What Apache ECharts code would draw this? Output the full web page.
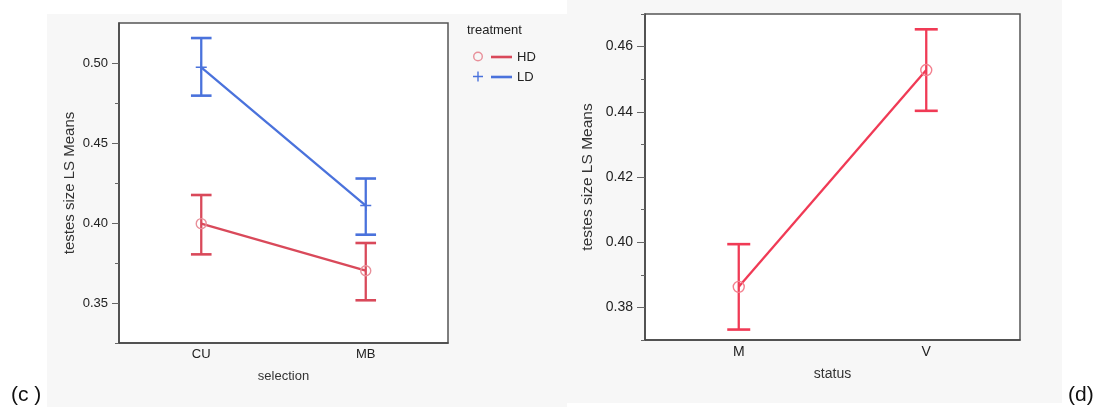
<!DOCTYPE html>
<html>
<head>
<meta charset="utf-8">
<script src="https://cdn.jsdelivr.net/npm/echarts@6/dist/echarts.min.js"></script>
<style>html,body{margin:0;padding:0;background:#fff;}#chart{width:1099px;height:412px;}</style>
</head>
<body>
<div id="chart"></div>
<script>
// ---- data (panel c) ----
const selection = ['CU', 'MB'];
const hdMean = [0.3996, 0.3702];
const hdLow  = [0.3804, 0.3517];
const hdHigh = [0.4175, 0.3875];
const ldMean = [0.4973, 0.4109];
const ldLow  = [0.4796, 0.3927];
const ldHigh = [0.5156, 0.4278];
const leftMajorTicks = [0.35, 0.40, 0.45, 0.50];
const leftMinorTicks = [0.325, 0.375, 0.425, 0.475];
// ---- data (panel d) ----
const status = ['M', 'V'];
const stMean = [0.3863, 0.4528];
const stLow  = [0.3732, 0.4403];
const stHigh = [0.3994, 0.4653];
const rightMajorTicks = [0.38, 0.40, 0.42, 0.44, 0.46];
const rightMinorTicks = [0.37, 0.39, 0.41, 0.43, 0.45, 0.47];

const FONT = 'Liberation Sans';
const HD_COLOR = '#d9495a', HD_MARK = '#e8909a';
const LD_COLOR = '#4a72dc';
const ST_COLOR = '#f03a55', ST_MARK = '#f3808f';

function errBars(cats, lo, hi) {
  return cats.map((c, i) => [i, lo[i], hi[i]]);
}
function makeRender(color, halfCap) {
  return function (params, api) {
    const x = api.value(0);
    const a = api.coord([x, api.value(1)]);
    const b = api.coord([x, api.value(2)]);
    return {
      type: 'group',
      children: [
        { type: 'line', shape: { x1: a[0], y1: a[1], x2: b[0], y2: b[1] }, style: { stroke: color, lineWidth: 2.3 } },
        { type: 'line', shape: { x1: a[0] - halfCap, y1: a[1], x2: a[0] + halfCap, y2: a[1] }, style: { stroke: color, lineWidth: 2.6 } },
        { type: 'line', shape: { x1: b[0] - halfCap, y1: b[1], x2: b[0] + halfCap, y2: b[1] }, style: { stroke: color, lineWidth: 2.6 } }
      ]
    };
  };
}
const ringPath = 'path://M0,5 A5,5 0 1 1 10,5 A5,5 0 1 1 0,5 Z M1.4,5 A3.6,3.6 0 1 0 8.6,5 A3.6,3.6 0 1 0 1.4,5 Z';
const plusPath = 'path://M4.3,0 H5.7 V10 H4.3 Z M0,4.3 H10 V5.7 H0 Z';
const plusStroke = 'path://M0,5 L10,5 M5,0 L5,10';

const chart = echarts.init(document.getElementById('chart'), null, { renderer: 'canvas' });

function majorAxis(grid, min, max, ticks, fs, tickLen, labelMargin, name, nameGap, nameFs) {
  return {
    type: 'value', gridIndex: grid, min: min, max: max, position: 'left',
    name: name, nameLocation: 'middle', nameGap: nameGap,
    nameTextStyle: { fontFamily: FONT, fontSize: nameFs, color: '#333' },
    axisLine: { show: true, lineStyle: { color: '#444', width: 1.5 } },
    axisTick: { show: true, length: tickLen, customValues: ticks, lineStyle: { color: '#666', width: 1 } },
    axisLabel: { show: true, customValues: ticks, fontFamily: FONT, fontSize: fs, color: '#222', margin: labelMargin,
      formatter: v => Number(v).toFixed(2) },
    splitLine: { show: false }
  };
}
function minorAxis(grid, min, max, ticks) {
  return {
    type: 'value', gridIndex: grid, min: min, max: max, position: 'left',
    axisLine: { show: false },
    axisTick: { show: true, length: 4, customValues: ticks, lineStyle: { color: '#666', width: 1 } },
    axisLabel: { show: false },
    splitLine: { show: false }
  };
}
function catAxis(grid, data, fs, name, nameGap, nameFs) {
  return {
    type: 'category', gridIndex: grid, data: data, boundaryGap: true,
    name: name, nameLocation: 'middle', nameGap: nameGap,
    nameTextStyle: { fontFamily: FONT, fontSize: nameFs, color: '#333' },
    axisLine: { show: true, lineStyle: { color: '#444', width: 1.5 } },
    axisTick: { show: false },
    axisLabel: { fontFamily: FONT, fontSize: fs, color: '#222', margin: 5 },
    splitLine: { show: false }
  };
}

const option = {
  animation: false,
  backgroundColor: '#ffffff',
  graphic: [
    { type: 'rect', z: -10, silent: true, shape: { x: 47, y: 14, width: 520, height: 393 }, style: { fill: '#f7f7f7' } },
    { type: 'rect', z: -10, silent: true, shape: { x: 567, y: 0, width: 495, height: 403 }, style: { fill: '#f7f7f7' } },
    { type: 'text', left: 11, top: 385, style: { text: '(c )', fontFamily: 'Liberation Sans', fontSize: 21, fill: '#111' } },
    { type: 'text', left: 1068, top: 385, style: { text: '(d)', fontFamily: 'Liberation Sans', fontSize: 21, fill: '#111' } }
  ],
  title: {
    text: 'treatment', left: 467, top: 24, padding: 0,
    textStyle: { fontFamily: FONT, fontSize: 13, fontWeight: 'normal', color: '#222' }
  },
  legend: [
    {
      orient: 'vertical', left: 473, top: 51.5, itemWidth: 10, itemHeight: 10, itemGap: 10,
      formatter: () => '', padding: 0,
      textStyle: { fontSize: 10, lineHeight: 10 },
      data: [
        { name: 'HD', icon: ringPath, itemStyle: { color: HD_MARK, borderWidth: 0 } },
        { name: 'LD', icon: plusPath, itemStyle: { color: LD_COLOR, borderWidth: 0 } }
      ]
    },
    {
      orient: 'vertical', left: 491, top: 50, itemWidth: 21, itemHeight: 2.6, itemGap: 6, padding: 0,
      textStyle: { fontFamily: FONT, fontSize: 13, lineHeight: 14, color: '#222' },
      data: [
        { name: 'HD', icon: 'rect', itemStyle: { color: HD_COLOR, borderWidth: 0 } },
        { name: 'LD', icon: 'rect', itemStyle: { color: LD_COLOR, borderWidth: 0 } }
      ]
    }
  ],
  grid: [
    { left: 119, top: 23, width: 329, height: 320, show: true, backgroundColor: '#ffffff', borderColor: '#555', borderWidth: 1.5 },
    { left: 645, top: 14, width: 375, height: 326, show: true, backgroundColor: '#ffffff', borderColor: '#555', borderWidth: 1.5 }
  ],
  xAxis: [
    catAxis(0, selection, 13, 'selection', 27, 13),
    catAxis(1, status, 14, 'status', 27, 14)
  ],
  yAxis: [
    majorAxis(0, 0.325, 0.525, leftMajorTicks, 13, 7, 11, 'testes size LS Means', 42, 15),
    minorAxis(0, 0.325, 0.525, leftMinorTicks),
    majorAxis(1, 0.37, 0.47, rightMajorTicks, 14, 8, 12, 'testes size LS Means', 49, 15.5),
    minorAxis(1, 0.37, 0.47, rightMinorTicks)
  ],
  series: [
    { name: 'HD', type: 'custom', xAxisIndex: 0, yAxisIndex: 0, data: errBars(selection, hdLow, hdHigh),
      encode: { x: 0, y: [1, 2] }, renderItem: makeRender(HD_COLOR, 10.3), z: 2 },
    { name: 'LD', type: 'custom', xAxisIndex: 0, yAxisIndex: 0, data: errBars(selection, ldLow, ldHigh),
      encode: { x: 0, y: [1, 2] }, renderItem: makeRender(LD_COLOR, 10.3), z: 2 },
    { name: 'HD', type: 'line', xAxisIndex: 0, yAxisIndex: 0, data: hdMean, z: 3,
      symbol: 'circle', symbolSize: 10, showSymbol: true,
      lineStyle: { color: HD_COLOR, width: 2.3 },
      itemStyle: { color: 'rgba(0,0,0,0)', borderColor: HD_MARK, borderWidth: 1.4 } },
    { name: 'LD', type: 'line', xAxisIndex: 0, yAxisIndex: 0, data: ldMean, z: 3,
      symbol: plusStroke, symbolSize: 11, showSymbol: true,
      lineStyle: { color: LD_COLOR, width: 2.3 },
      itemStyle: { color: 'rgba(0,0,0,0)', borderColor: LD_COLOR, borderWidth: 1.5 } },
    { name: 'status', type: 'custom', xAxisIndex: 1, yAxisIndex: 2, data: errBars(status, stLow, stHigh),
      encode: { x: 0, y: [1, 2] }, renderItem: makeRender(ST_COLOR, 11.5), z: 2 },
    { name: 'status', type: 'line', xAxisIndex: 1, yAxisIndex: 2, data: stMean, z: 3,
      symbol: 'circle', symbolSize: 11, showSymbol: true,
      lineStyle: { color: ST_COLOR, width: 2.3 },
      itemStyle: { color: 'rgba(0,0,0,0)', borderColor: ST_MARK, borderWidth: 1.4 } }
  ]
};
chart.setOption(option);
</script>
</body>
</html>
